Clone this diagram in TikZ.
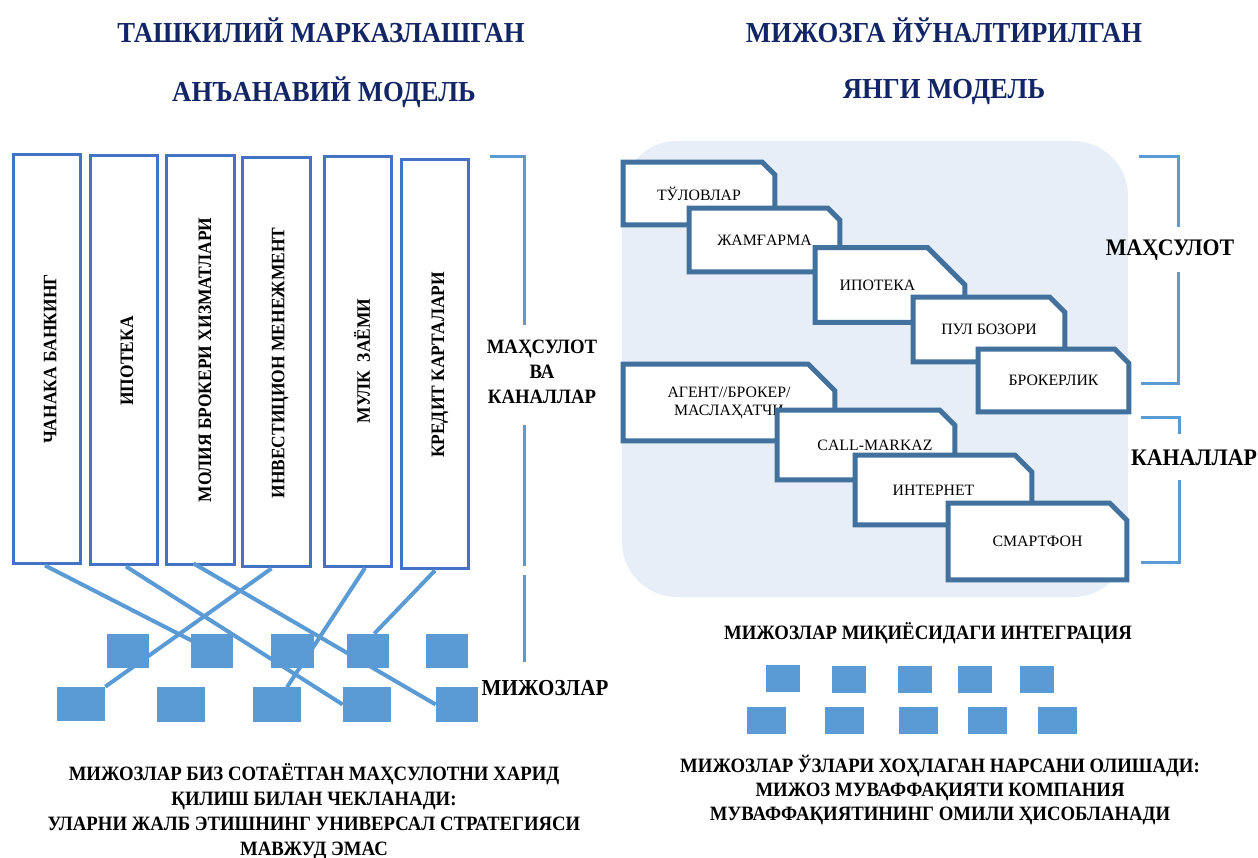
\documentclass[tikz,border=0pt]{standalone}
\usepackage{fontspec}
\setmainfont{Liberation Serif}[BoldFeatures={FakeStretch=0.92}]
\usetikzlibrary{shapes.misc,calc}
\definecolor{navy}{RGB}{18,38,102}
\definecolor{colblue}{RGB}{68,114,196}
\definecolor{lineblue}{RGB}{91,155,213}
\definecolor{cardblue}{RGB}{65,113,156}
\definecolor{bgblue}{RGB}{231,238,247}

\begin{document}
\begin{tikzpicture}
[x=0.02cm, y=-0.02cm,
 title/.style={font=\fontsize{16.5}{19}\selectfont\bfseries, text=navy},
 colbox/.style={draw=colblue, line width=0.06cm, fill=white, minimum width=1.36cm, minimum height=8.2cm, inner sep=0pt},
 coltext/.style={rotate=90, font=\fontsize{10.8}{12}\selectfont\bfseries},
 client/.style={fill=lineblue, inner sep=0pt, minimum height=0.68cm},
 smallclient/.style={fill=lineblue, inner sep=0pt, minimum height=0.54cm},
 link/.style={draw=lineblue, line width=0.08cm},
 brace/.style={draw=lineblue, line width=0.06cm},
 card/.style={chamfered rectangle, chamfered rectangle corners=north east, draw=cardblue, line width=0.1cm, fill=white, font=\fontsize{9}{10.2}\selectfont, align=center, inner sep=0pt},
 bold/.style={font=\fontsize{11.6}{14.2}\selectfont\bfseries, align=center},
 side/.style={font=\fontsize{13.5}{15}\selectfont\bfseries}]

\useasboundingbox (0,0) rectangle (1258,858);

% the titles
\node[title] (tl1) at (321,30) {ТАШКИЛИЙ МАРКАЗЛАШГАН};
\node[title] (tl2) at (324,92) {АНЪАНАВИЙ МОДЕЛЬ};
\node[title] (tr1) at (944,30) {МИЖОЗГА ЙЎНАЛТИРИЛГАН};
\node[title] (tr2) at (944,92) {ЯНГИ МОДЕЛЬ};

%%%% old model
% the product columns
\node[colbox] (c1) at (47,359) {};
\node[colbox] (c2) at (124,360) {};
\node[colbox] (c3) at (200.5,360) {};
\node[colbox] (c4) at (276.5,362) {};
\node[colbox] (c5) at (358,361.5) {};
\node[colbox] (c6) at (435,364) {};
\node[coltext] (t1) at (50,359) {ЧАНАКА БАНКИНГ};
\node[coltext] (t2) at (127,361) {ИПОТЕКА};
\node[coltext] (t3) at (205,360) {МОЛИЯ БРОКЕРИ ХИЗМАТЛАРИ};
\node[coltext] (t4) at (280,363) {ИНВЕСТИЦИОН МЕНЕЖМЕНТ};
\node[coltext] (t5) at (362,361) {МУЛК\ \ ЗАЁМИ};
\node[coltext] (t6) at (440,365) {КРЕДИТ КАРТАЛАРИ};

% the clients
\node[client, minimum width=0.84cm] (r1a) at (128,651) {};
\node[client, minimum width=0.84cm] (r1b) at (212,651) {};
\node[client, minimum width=0.84cm] (r1c) at (292.5,651) {};
\node[client, minimum width=0.84cm] (r1d) at (368,651) {};
\node[client, minimum width=0.84cm] (r1e) at (447,651) {};
\node[client, minimum width=0.96cm] (r2a) at (81,704) {};
\node[client, minimum width=0.96cm] (r2b) at (181,704.5) {};
\node[client, minimum width=0.96cm] (r2c) at (277,704.5) {};
\node[client, minimum width=0.96cm] (r2d) at (367,704.5) {};
\node[client, minimum width=0.84cm] (r2e) at (457,704.5) {};

% the links from products to clients
\draw[link] ($(c1.south)+(-2,0)$) -- (r1b.center);
\draw[link] ($(c2.south)+(2,0)$) -- (r2d.west);
\draw[link] ($(c3.south)+(-7,-3)$) -- (r2e.west);
\draw[link] ($(c4.south)+(-5,0)$) -- (r2a.north east);
\draw[link] ($(c5.south)+(7,0)$) -- (r2c.60);
\draw[link] (c6.south) -- (r1d.70);
% squares again on top of the links
\foreach \n in {r1a,r1b,r1c,r1d,r1e,r2a,r2b,r2c,r2d,r2e}
  \fill[lineblue] (\n.south west) rectangle (\n.north east);

% the brackets
\draw[brace] (490,157) -- (524,157) -- (524,325);
\draw[brace] (524,425) -- (524,566);
\draw[brace] (524,575) -- (524,662);
\node[bold] (mvk) at (542,372) {МАҲСУЛОТ\\ВА\\КАНАЛЛАР};
\node[side, font=\fontsize{13}{14}\selectfont\bfseries] (mzl) at (545,688) {МИЖОЗЛАР};

% result
\node[bold] (resl) at (314,812) {МИЖОЗЛАР БИЗ СОТАЁТГАН МАҲСУЛОТНИ ХАРИД\\ҚИЛИШ БИЛАН ЧЕКЛАНАДИ:\\УЛАРНИ ЖАЛБ ЭТИШНИНГ УНИВЕРСАЛ СТРАТЕГИЯСИ\\МАВЖУД ЭМАС};

%%%% new model
% the background
\fill[bgblue, rounded corners=1.1cm] (622,141) rectangle (1128,597);

% products
\node[card, minimum width=3.04cm, minimum height=1.26cm, chamfered rectangle xsep=0.2cm, chamfered rectangle ysep=0.12cm] (k1) at (699,193.5) {ТЎЛОВЛАР};
\node[card, minimum width=3.02cm, minimum height=1.28cm, chamfered rectangle xsep=0.24cm, chamfered rectangle ysep=0.14cm] (k2) at (764.5,240) {ЖАМҒАРМА};
\node[card, minimum width=3.0cm, minimum height=1.28cm, chamfered rectangle xsep=0.7cm, chamfered rectangle ysep=0.64cm] (k3) at (890,285) {ИПОТЕКА\hspace*{0.5cm}};
\node[card, minimum width=3.04cm, minimum height=1.3cm, chamfered rectangle xsep=0.24cm, chamfered rectangle ysep=0.2cm] (k4) at (989,329.5) {ПУЛ БОЗОРИ};
\node[card, minimum width=3.02cm, minimum height=1.26cm, chamfered rectangle xsep=0.22cm, chamfered rectangle ysep=0.18cm] (k5) at (1053.5,380.5) {БРОКЕРЛИК};

% channels
\node[card, minimum width=4.24cm, minimum height=1.54cm, chamfered rectangle xsep=0.4cm, chamfered rectangle ysep=0.22cm] (k6) at (729,402.5) {АГЕНТ//БРОКЕР/\\МАСЛАҲАТЧИ};
\node[card, minimum width=3.56cm, minimum height=1.4cm, chamfered rectangle xsep=0.3cm, chamfered rectangle ysep=0.2cm] (k7) at (866,445) {\hspace*{0.36cm}CALL-MARKAZ};
\node[card, minimum width=3.54cm, minimum height=1.4cm, chamfered rectangle xsep=0.3cm, chamfered rectangle ysep=0.24cm] (k8) at (943.5,490) {ИНТЕРНЕТ\hspace*{0.4cm}};
\node[card, minimum width=3.58cm, minimum height=1.54cm, chamfered rectangle xsep=0.3cm, chamfered rectangle ysep=0.24cm] (k9) at (1037.5,541.5) {СМАРТФОН};

% the brackets
\draw[brace] (1139,157) -- (1178,157) -- (1178,227);
\draw[brace] (1178,272) -- (1178,383) -- (1141,383);
\node[side] (prd) at (1170,250) {МАҲСУЛОТ};
\draw[brace] (1141,417) -- (1179,417) -- (1179,434);
\draw[brace] (1179,480) -- (1179,562) -- (1141,562);
\node[side] (chn) at (1194,458) {КАНАЛЛАР};

% the clients
\node[bold] (intg) at (928,633) {МИЖОЗЛАР МИҚИЁСИДАГИ ИНТЕГРАЦИЯ};
\node[smallclient, minimum width=0.68cm] (s1a) at (783,678) {};
\node[smallclient, minimum width=0.68cm] (s1b) at (849,679) {};
\node[smallclient, minimum width=0.68cm] (s1c) at (915,679) {};
\node[smallclient, minimum width=0.68cm] (s1d) at (975,679) {};
\node[smallclient, minimum width=0.68cm] (s1e) at (1037,679) {};
\node[smallclient, minimum width=0.78cm] (s2a) at (766,720) {};
\node[smallclient, minimum width=0.78cm] (s2b) at (844,720) {};
\node[smallclient, minimum width=0.78cm] (s2c) at (918,720) {};
\node[smallclient, minimum width=0.78cm] (s2d) at (987,720) {};
\node[smallclient, minimum width=0.78cm] (s2e) at (1057,720) {};

% result
\node[bold, font=\fontsize{11.6}{13.4}\selectfont\bfseries] (resr) at (940,790) {МИЖОЗЛАР ЎЗЛАРИ ХОҲЛАГАН НАРСАНИ ОЛИШАДИ:\\МИЖОЗ МУВАФФАҚИЯТИ КОМПАНИЯ\\МУВАФФАҚИЯТИНИНГ ОМИЛИ ҲИСОБЛАНАДИ};

\end{tikzpicture}
\end{document}
